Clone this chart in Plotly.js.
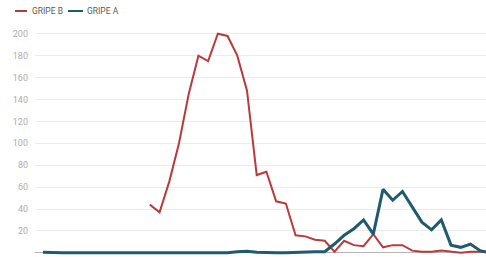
<!DOCTYPE html>
<html>
<head>
<meta charset="utf-8">
<script src="https://cdn.plot.ly/plotly-3.0.1.min.js"></script>
<style>html,body{margin:0;padding:0;background:#fff;}#chart{width:486px;height:257px;}</style>
</head>
<body>
<div id="chart"></div>
<script>
// Week index (category positions)
const weeks = [];
for (let i = 0; i <= 46; i++) weeks.push(i);

const seriesNames = ["GRIPE B", "GRIPE A"];
const seriesColors = ["#b83b3b", "#1f5a6d"];

// GRIPE B (null = no data)
const gripeB = [null,null,null,null,null,null,null,null,null,null,null,
  44,37,65,100,145,180,175,200,198,180,148,71,74,47,45,16,15,12,11,1,
  11,7,6,17,5,7,7,2,1,1,2,1,0,1,1,1];

// GRIPE A
const gripeA = [0.5,0,0,0,0,0,0,0,0,0,0,0,0,0,0,0,0,0,0,0,1,1.5,0.5,0,0,0,0.5,0.8,1,1,8,
  16,22,30,17,58,48,56,42,28,21,30,7,5,8,2,0];

const yTicks = [0,20,40,60,80,100,120,140,160,180,200];

const W = 486, H = 257, L = 35;
const mTop = 25, mBottom = 2;
const pw = W - L, ph = H - mTop - mBottom;
function px2paperX(p){ return (p - L) / pw; }
function px2paperY(p){ return (H - mBottom - p) / ph; }

const traces = [
  {x: weeks, y: gripeB, name: seriesNames[0], type: 'scatter', mode: 'lines',
   line: {color: seriesColors[0], width: 2}, connectgaps: false, hoverinfo: 'none'},
  {x: weeks, y: gripeA, name: seriesNames[1], type: 'scatter', mode: 'lines',
   line: {color: seriesColors[1], width: 3}, hoverinfo: 'none'}
];

// custom legend (short line samples)
const legendItems = [
  {x0: 15, x1: 27, tx: 31},
  {x0: 68, x1: 83, tx: 86}
];
const legY = px2paperY(11);
const shapes = [], annotations = [];
legendItems.forEach((it, i) => {
  shapes.push({type: 'line', xref: 'paper', yref: 'paper',
    x0: px2paperX(it.x0), x1: px2paperX(it.x1), y0: legY, y1: legY,
    line: {color: seriesColors[i], width: 2}});
  annotations.push({xref: 'paper', yref: 'paper', x: px2paperX(it.tx), y: legY,
    xanchor: 'left', yanchor: 'middle', showarrow: false, text: seriesNames[i],
    borderpad: 0,
    font: {family: 'Roboto, sans-serif', size: 8.5, color: '#5a5a5a'}});
});

const layout = {
  width: W, height: H,
  margin: {l: L, r: 0, t: mTop, b: mBottom, pad: 0},
  paper_bgcolor: '#fff', plot_bgcolor: '#fff',
  showlegend: false,
  xaxis: {range: [-0.82, 45.6], showgrid: false, zeroline: false, showticklabels: false,
    showline: false, ticks: '', fixedrange: true},
  yaxis: {range: [-2, 208], tickvals: yTicks, ticktext: yTicks.map(String),
    showgrid: true, gridcolor: '#ececec', gridwidth: 1,
    zeroline: true, zerolinecolor: '#b5b5b5', zerolinewidth: 1,
    showline: false, ticks: '', ticklabelstandoff: 6,
    tickfont: {family: 'Roboto, sans-serif', size: 9, color: '#adadad'}, fixedrange: true},
  shapes: shapes,
  annotations: annotations
};

Plotly.newPlot('chart', traces, layout, {displayModeBar: false, staticPlot: true});
</script>
</body>
</html>
